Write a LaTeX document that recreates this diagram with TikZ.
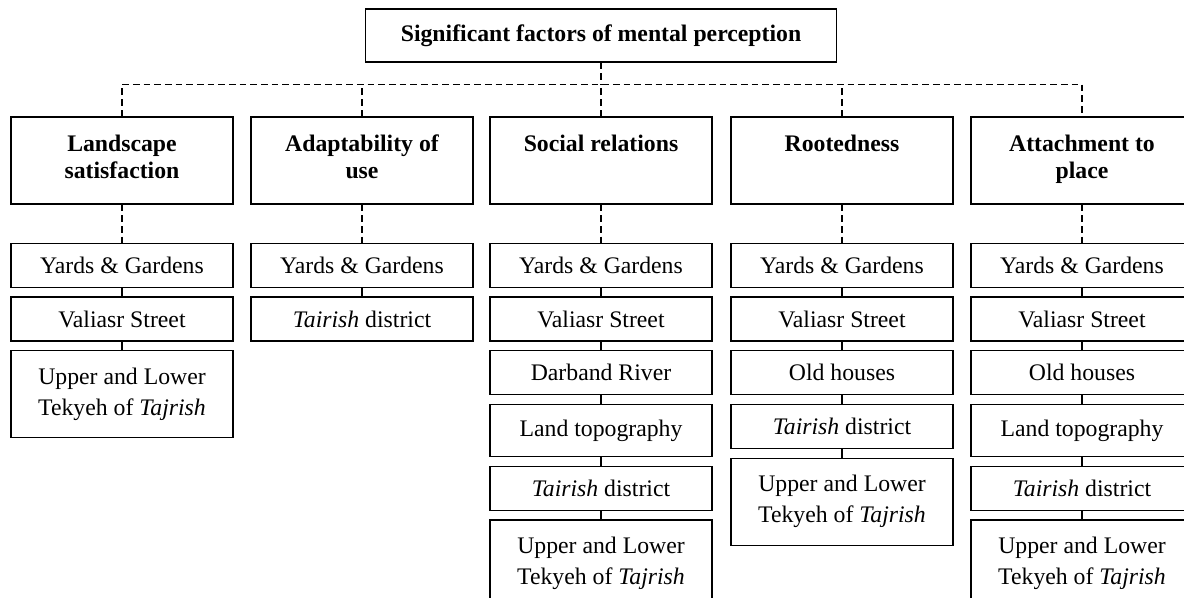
\documentclass[tikz,border=0pt]{standalone}
\usepackage{fontspec}
\setmainfont{Liberation Serif}
\usetikzlibrary{positioning}

\begin{document}
\begin{tikzpicture}[
  x=0.75pt, y=-0.75pt, node distance=6.3pt,
  font=\fontsize{17.8}{23.2}\selectfont,
  title/.style={draw, line width=1pt, minimum width=353pt, minimum height=39.75pt, inner sep=2pt, font=\fontsize{17.8}{23.2}\selectfont\bfseries},
  factor/.style={draw, line width=1pt, minimum width=166.5pt, minimum height=65.25pt, align=center, inner sep=2pt, font=\fontsize{17.8}{20.25}\selectfont\bfseries},
  item/.style={draw, line width=1pt, minimum width=166.5pt, minimum height=33pt, align=center, inner sep=2pt},
  tallitem/.style={item, minimum height=39pt},
  twoline/.style={item, minimum height=65.25pt},
  dashlink/.style={line width=1.3pt, dash pattern=on 5pt off 3pt},
  link/.style={line width=1pt},
]
  \useasboundingbox (0,0) rectangle (1184,597);
  \clip (0,0) rectangle (1184,597);

  % main factor and the five groups
  \node[title] (sig) at (601,35.5) {Significant factors of mental perception};
  \coordinate (bus) at (601,84.5);
  \node[factor] (land)   at (122,160.5)  {Landscape\\satisfaction\strut};
  \node[factor] (adapt)  at (362,160.5)  {Adaptability of\\use\strut};
  \node[factor] (social) at (601,160.5)  {Social relations\\\strut};
  \node[factor] (root)   at (842,160.5)  {Rootedness\\\strut};
  \node[factor] (attach) at (1082,160.5) {Attachment to\\place\strut};

  % landscape satisfaction
  \node[item, below=28.5pt of land] (land1) {Yards \& Gardens};
  \node[item, below=of land1] (land2) {Valiasr Street};
  \node[twoline, below=of land2] (land3) {Upper and Lower\\Tekyeh of \textit{Tajrish}};

  % adaptability of use
  \node[item, below=28.5pt of adapt] (adapt1) {Yards \& Gardens};
  \node[item, below=of adapt1] (adapt2) {\textit{Tairish} district};

  % social relations
  \node[item, below=28.5pt of social] (social1) {Yards \& Gardens};
  \node[item, below=of social1] (social2) {Valiasr Street};
  \node[item, below=of social2] (social3) {Darband River};
  \node[tallitem, below=of social3] (social4) {Land topography};
  \node[item, below=of social4] (social5) {\textit{Tairish} district};
  \node[twoline, below=of social5] (social6) {Upper and Lower\\Tekyeh of \textit{Tajrish}};

  % rootedness
  \node[item, below=28.5pt of root] (root1) {Yards \& Gardens};
  \node[item, below=of root1] (root2) {Valiasr Street};
  \node[item, below=of root2] (root3) {Old houses};
  \node[item, below=of root3] (root4) {\textit{Tairish} district};
  \node[twoline, below=of root4] (root5) {Upper and Lower\\Tekyeh of \textit{Tajrish}};

  % attachment to place
  \node[item, below=28.5pt of attach] (attach1) {Yards \& Gardens};
  \node[item, below=of attach1] (attach2) {Valiasr Street};
  \node[item, below=of attach2] (attach3) {Old houses};
  \node[tallitem, below=of attach3] (attach4) {Land topography};
  \node[item, below=of attach4] (attach5) {\textit{Tairish} district};
  \node[twoline, below=of attach5] (attach6) {Upper and Lower\\Tekyeh of \textit{Tajrish}};

  % dashed tree
  \draw[dashlink] (sig.south) -- (sig.south |- bus);
  \draw[dashlink] (land.north) -- (land.north |- bus) -- (attach.north |- bus) -- (attach.north);
  \draw[dashlink] (adapt.north) -- (adapt.north |- bus);
  \draw[dashlink] (social.north) -- (social.north |- bus);
  \draw[dashlink] (root.north) -- (root.north |- bus);
  \draw[dashlink] (land.south) -- (land1.north);
  \draw[dashlink] (adapt.south) -- (adapt1.north);
  \draw[dashlink] (social.south) -- (social1.north);
  \draw[dashlink] (root.south) -- (root1.north);
  \draw[dashlink] (attach.south) -- (attach1.north);

  % short links between items
  \draw[link] (land1) -- (land2);
  \draw[link] (land2) -- (land3);
  \draw[link] (adapt1) -- (adapt2);
  \draw[link] (social1) -- (social2);
  \draw[link] (social2) -- (social3);
  \draw[link] (social3) -- (social4);
  \draw[link] (social4) -- (social5);
  \draw[link] (social5) -- (social6);
  \draw[link] (root1) -- (root2);
  \draw[link] (root2) -- (root3);
  \draw[link] (root3) -- (root4);
  \draw[link] (root4) -- (root5);
  \draw[link] (attach1) -- (attach2);
  \draw[link] (attach2) -- (attach3);
  \draw[link] (attach3) -- (attach4);
  \draw[link] (attach4) -- (attach5);
  \draw[link] (attach5) -- (attach6);
\end{tikzpicture}
\end{document}
